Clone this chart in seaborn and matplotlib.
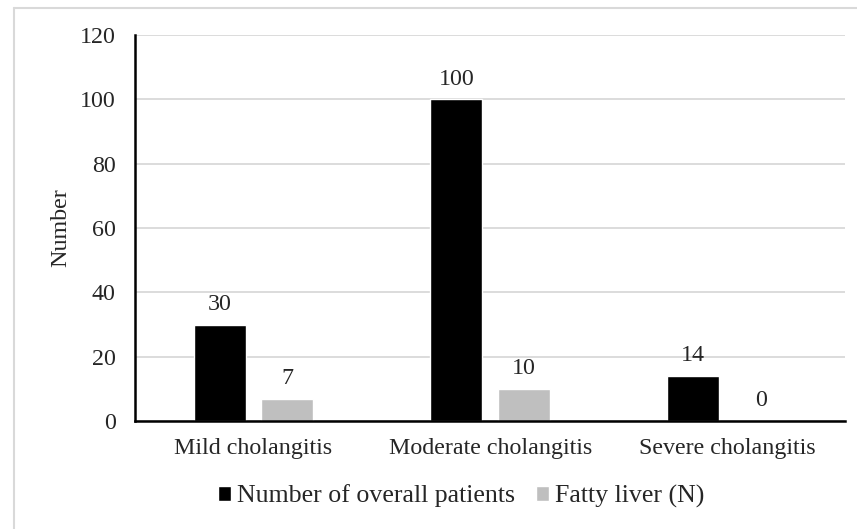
import pandas as pd
import seaborn as sns
from matplotlib import pyplot as plt
from matplotlib.lines import Line2D

categories = ["Mild cholangitis", "Moderate cholangitis", "Severe cholangitis"]
series = ["Number of overall patients", "Fatty liver (N)"]
overall = [30, 100, 14]
fatty = [7, 10, 0]
colors = ["#000000", "#BFBFBF"]

df = pd.DataFrame({
    "category": categories * 2,
    "group": [series[0]] * 3 + [series[1]] * 3,
    "value": overall + fatty,
})

sns.set_style("white")
plt.rcParams["font.family"] = ["Liberation Serif", "DejaVu Serif"]
fs = 17.3

fig = plt.figure(figsize=(8.57, 5.29), dpi=100)
ax = fig.add_axes([0.1575, 0.204, 0.829, 0.730])

sns.barplot(data=df, x="category", y="value", hue="group", palette=colors,
            width=0.57, gap=0.23, saturation=1, ax=ax)

for c in ax.containers:
    ax.bar_label(c, fontsize=fs, padding=7, color="#262626")

ax.set_ylim(0, 120)
ax.set_yticks(range(0, 121, 20))
ax.set_xlim(-0.5, 2.5)
ax.yaxis.grid(True, color="#D9D9D9", linewidth=1.3)
ax.set_axisbelow(True)
for s in ["top", "right"]:
    ax.spines[s].set_visible(False)
for s in ["left", "bottom"]:
    ax.spines[s].set_color("black")
    ax.spines[s].set_linewidth(1.8)
ax.tick_params(axis="both", length=0, labelsize=fs, labelcolor="#262626")
ax.tick_params(axis="x", pad=12)
ax.tick_params(axis="y", pad=14)
ax.set_xlabel("")
ax.set_ylabel("Number", fontsize=fs, color="#262626", labelpad=6)

ax.legend(loc="center", bbox_to_anchor=(0.538, 0.062), bbox_transform=fig.transFigure,
          ncol=2, frameon=False, fontsize=18.6, handlelength=0.5, handleheight=0.5,
          handletextpad=0.25, columnspacing=0.8)

# chart border (left and top)
fig.add_artist(Line2D([14 / 857, 14 / 857], [0, 1 - 8 / 529], color="#D9D9D9", linewidth=1.5))
fig.add_artist(Line2D([14 / 857, 1], [1 - 8 / 529, 1 - 8 / 529], color="#D9D9D9", linewidth=1.5))

plt.savefig("out.png", dpi=100)
